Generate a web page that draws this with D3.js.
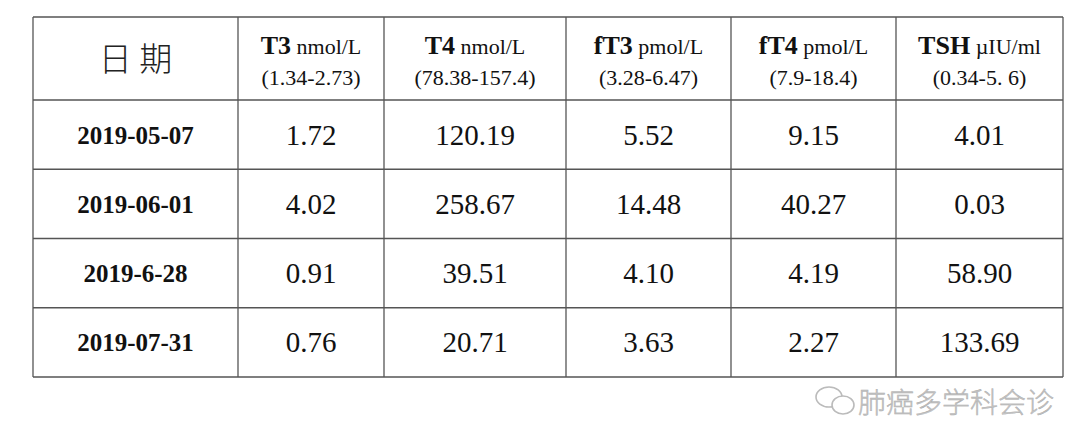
<!DOCTYPE html><html><head><meta charset="utf-8">
<script src="https://cdn.jsdelivr.net/npm/d3@7/dist/d3.min.js"></script>
<style>body{margin:0;background:#fff}</style></head><body><svg id="c" width="1080" height="448"></svg>
<script>
const dates=["2019-05-07","2019-06-01","2019-6-28","2019-07-31"];
const names=["T3","T4","fT3","fT4","TSH"];
const units=["nmol/L","nmol/L","pmol/L","pmol/L","µIU/ml"];
const ranges=["(1.34-2.73)","(78.38-157.4)","(3.28-6.47)","(7.9-18.4)","(0.34-5. 6)"];
const T3=["1.72","4.02","0.91","0.76"];
const T4=["120.19","258.67","39.51","20.71"];
const fT3=["5.52","14.48","4.10","3.63"];
const fT4=["9.15","40.27","4.19","2.27"];
const TSH=["4.01","0.03","58.90","133.69"];
const series=[T3,T4,fT3,fT4,TSH];
const colW=[205,146,182,165,165,167];
const svg=d3.select("#c");
const L=33,R=1063,T=17,H=100,B=377;
const edges=[L];colW.forEach(w=>edges.push(edges[edges.length-1]+w));
const xs=d3.scaleLinear().domain([0,edges[edges.length-1]-L]).range([L,R]);
const colX=edges.map(e=>xs(e-L));
const y=d3.scaleBand().domain(dates).range([H,B]);
const cx=i=>(colX[i]+colX[i+1])/2;
const g=svg.append("g");
g.selectAll("line.h").data([T,...dates.map(d=>y(d)),B]).join("line").attr("x1",L).attr("x2",R).attr("y1",d=>d).attr("y2",d=>d).attr("stroke","#555").attr("stroke-width",1.3);
g.selectAll("line.v").data(colX).join("line").attr("x1",d=>d).attr("x2",d=>d).attr("y1",T).attr("y2",B).attr("stroke","#555").attr("stroke-width",1.3);
g.append("text").attr("x",cx(0)).attr("y",(T+H)/2+12).attr("text-anchor","middle").attr("font-family","Noto Sans CJK SC").attr("font-weight",300).attr("font-size",33).attr("fill","#222").text("日 期");
names.forEach((n,i)=>{
 const t=g.append("text").attr("x",cx(i+1)).attr("y",54).attr("text-anchor","middle").attr("font-family","Liberation Serif").attr("fill","#111");
 t.append("tspan").attr("font-weight","bold").attr("font-size",26).text(n);
 t.append("tspan").attr("font-size",22).text(" "+units[i]);
 g.append("text").attr("x",cx(i+1)).attr("y",85).attr("text-anchor","middle").attr("font-family","Liberation Serif").attr("font-size",22).attr("fill","#111").text(ranges[i]);
});
dates.forEach((d,r)=>{
 const yy=y(d)+y.bandwidth()/2+9;
 g.append("text").attr("x",cx(0)).attr("y",yy).attr("text-anchor","middle").attr("font-family","Liberation Serif").attr("font-weight","bold").attr("font-size",25).attr("fill","#111").text(d);
 series.forEach((s,i)=>g.append("text").attr("x",cx(i+1)).attr("y",yy+1).attr("text-anchor","middle").attr("font-family","Liberation Serif").attr("font-size",29).attr("fill","#111").text(s[r]));
});
const w=svg.append("g").attr("fill","none").attr("stroke","#bbb").attr("stroke-width",1.6);
w.append("ellipse").attr("cx",829).attr("cy",397).attr("rx",13).attr("ry",10);
w.append("ellipse").attr("cx",843).attr("cy",405).attr("rx",11).attr("ry",9).attr("fill","#fff");
svg.append("text").attr("x",858).attr("y",413).attr("font-family","Noto Sans CJK SC").attr("font-weight",300).attr("font-size",28).attr("fill","#c4c4c4").attr("stroke","#aaa").attr("stroke-width",0.4).text("肺癌多学科会诊");
</script></body></html>
